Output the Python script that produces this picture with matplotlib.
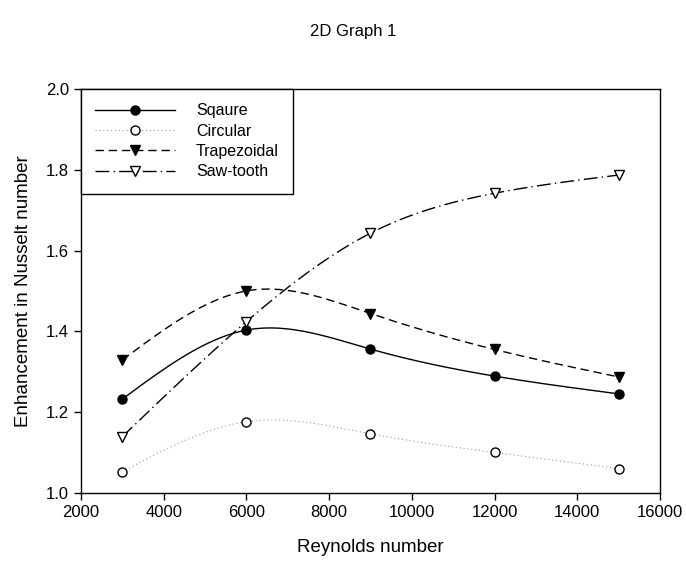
import numpy as np
import matplotlib.pyplot as plt

plt.rcParams['font.family'] = ['Liberation Sans', 'DejaVu Sans']

# Reynolds number and enhancement ratio for each rib shape
reynolds = [3000, 6000, 9000, 12000, 15000]
square = [1.232, 1.403, 1.356, 1.289, 1.245]
circular = [1.052, 1.176, 1.146, 1.100, 1.060]
trapezoidal = [1.329, 1.500, 1.444, 1.355, 1.287]
sawtooth = [1.139, 1.424, 1.643, 1.742, 1.787]
names = ['Sqaure', 'Circular', 'Trapezoidal', 'Saw-tooth']


def spline(x, y, n=200):
    # natural cubic spline through the points, for a smooth curve
    x = np.asarray(x, float)
    y = np.asarray(y, float)
    k = len(x)
    h = np.diff(x)
    A = np.zeros((k, k))
    b = np.zeros(k)
    A[0, 0] = A[-1, -1] = 1
    for i in range(1, k - 1):
        A[i, i - 1] = h[i - 1]
        A[i, i] = 2 * (h[i - 1] + h[i])
        A[i, i + 1] = h[i]
        b[i] = 6 * ((y[i + 1] - y[i]) / h[i] - (y[i] - y[i - 1]) / h[i - 1])
    m = np.linalg.solve(A, b)
    xs = np.linspace(x[0], x[-1], n)
    j = np.clip(np.searchsorted(x, xs) - 1, 0, k - 2)
    t0 = x[j + 1] - xs
    t1 = xs - x[j]
    hh = h[j]
    ys = (m[j] * t0 ** 3 + m[j + 1] * t1 ** 3) / (6 * hh) \
        + (y[j] / hh - m[j] * hh / 6) * t0 + (y[j + 1] / hh - m[j + 1] * hh / 6) * t1
    return xs, ys


fig = plt.figure(figsize=(6.86, 5.71), dpi=100)
ax = fig.add_axes([0.118, 0.137, 0.844, 0.707])

styles = [
    dict(color='black', ls='-', lw=1.0, marker='o', mfc='black', mec='black', ms=6.5),
    dict(color='#999999', ls=(0, (1, 2.5)), lw=0.8, marker='o', mfc='white', mec='black', ms=6.5),
    dict(color='black', ls=(0, (6, 3.5)), lw=1.0, marker='v', mfc='black', mec='black', ms=7.5),
    dict(color='black', ls=(0, (10, 3, 1, 3)), lw=1.0, marker='v', mfc='white', mec='black', ms=7.5),
]

handles = []
for ys, st, name in zip([square, circular, trapezoidal, sawtooth], styles, names):
    sx, sy = spline(reynolds, ys)
    ax.plot(sx, sy, color=st['color'], ls=st['ls'], lw=st['lw'])
    ax.plot(reynolds, ys, ls='none', marker=st['marker'], mfc=st['mfc'],
            mec=st['mec'], ms=st['ms'], mew=1.0)
    h, = ax.plot([], [], color=st['color'], ls=st['ls'], lw=st['lw'],
                 marker=st['marker'], mfc=st['mfc'], mec=st['mec'], ms=st['ms'], mew=1.0)
    handles.append(h)

ax.set_xlim(2000, 16000)
ax.set_ylim(1.0, 2.0)
ax.set_xticks(range(2000, 16001, 2000))
ax.set_yticks(np.arange(1.0, 2.01, 0.2))
ax.yaxis.set_major_formatter(plt.FormatStrFormatter('%.1f'))
ax.tick_params(direction='out', length=5, width=1, labelsize=12, right=False, top=False)
for s in ax.spines.values():
    s.set_linewidth(1.0)

ax.set_xlabel('Reynolds number', fontsize=13.5, labelpad=14)
ax.set_ylabel('Enhancement in Nusselt number', fontsize=13.5, labelpad=10)
fig.text(0.515, 0.945, '2D Graph 1', ha='center', va='center', fontsize=12)

leg = ax.legend(handles, names, loc='upper left', borderaxespad=0, fontsize=11.5,
                handlelength=5.0, handletextpad=1.3, labelspacing=0.33,
                borderpad=0.9, fancybox=False, framealpha=1)
leg.get_frame().set_edgecolor('black')
leg.get_frame().set_linewidth(1.0)

fig.savefig('out.png', dpi=100)
